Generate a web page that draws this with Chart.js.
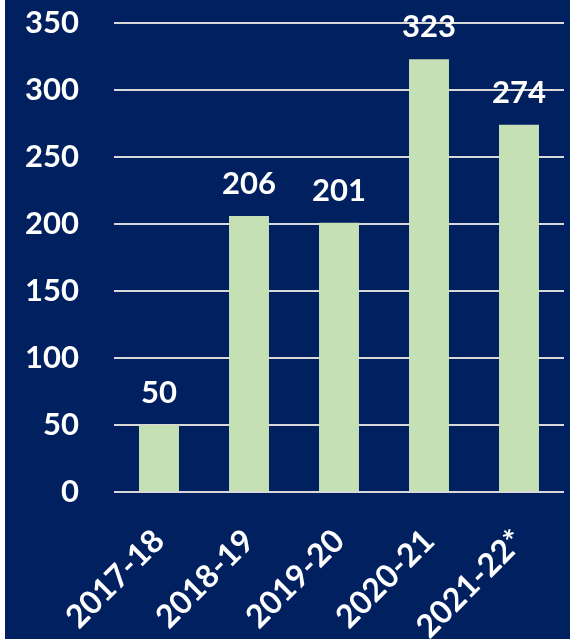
<!DOCTYPE html>
<html>
<head>
<meta charset="utf-8">
<script src="https://cdn.jsdelivr.net/npm/chart.js@4.4.0/dist/chart.umd.min.js"></script>
<style>
  html, body { margin: 0; padding: 0; background: #ffffff; }
  #wrap { position: absolute; left: 5px; top: 0; width: 565px; height: 639px; background: #002060; }
  canvas { display: block; }
</style>
</head>
<body>
<div id="wrap"><canvas id="c" width="565" height="639"></canvas></div>
<script>
const categories = ['2017-18', '2018-19', '2019-20', '2020-21', '2021-22*'];
const values = [50, 206, 201, 323, 274];
const yTicks = [0, 50, 100, 150, 200, 250, 300, 350];

const FONT = 'Lato, "DejaVu Sans", sans-serif';

const valueLabels = {
  id: 'valueLabels',
  afterDatasetsDraw(chart) {
    const ctx = chart.ctx;
    const meta = chart.getDatasetMeta(0);
    ctx.save();
    ctx.fillStyle = '#ffffff';
    ctx.font = 'bold 31px ' + FONT;
    ctx.textAlign = 'center';
    ctx.textBaseline = 'alphabetic';
    meta.data.forEach((bar, i) => {
      ctx.fillText(String(values[i]), bar.x, bar.y - 22);
    });
    ctx.restore();
  }
};

new Chart(document.getElementById('c'), {
  type: 'bar',
  data: {
    labels: categories,
    datasets: [{
      data: values,
      backgroundColor: '#C5E0B4',
      borderWidth: 0,
      barPercentage: 0.444,
      categoryPercentage: 1.0
    }]
  },
  options: {
    responsive: false,
    animation: false,
    events: [],
    layout: { padding: { top: 23, right: 6, left: 0, bottom: 0 } },
    plugins: { legend: { display: false }, tooltip: { enabled: false } },
    scales: {
      x: {
        grid: { display: false, drawTicks: false },
        border: { display: false },
        ticks: {
          color: '#ffffff',
          font: { family: FONT, size: 32, weight: 'bold' },
          minRotation: 45,
          maxRotation: 45,
          padding: 30
        },
        afterFit(scale) {
          scale.height = 147;
          scale.paddingLeft = 0; scale.paddingRight = 0;
        }
      },
      y: {
        min: 0,
        max: 350,
        afterBuildTicks(scale) { scale.ticks = yTicks.map(v => ({ value: v })); },
        grid: { color: '#D9D9D9', lineWidth: 2, drawTicks: false },
        border: { display: false },
        ticks: {
          color: '#ffffff',
          font: { family: FONT, size: 31, weight: 'bold' },
          padding: 35
        },
        afterFit(scale) {
          scale.width = 109;
          scale.paddingTop = 0; scale.paddingBottom = 0;
        }
      }
    }
  },
  plugins: [valueLabels]
});
</script>
</body>
</html>
